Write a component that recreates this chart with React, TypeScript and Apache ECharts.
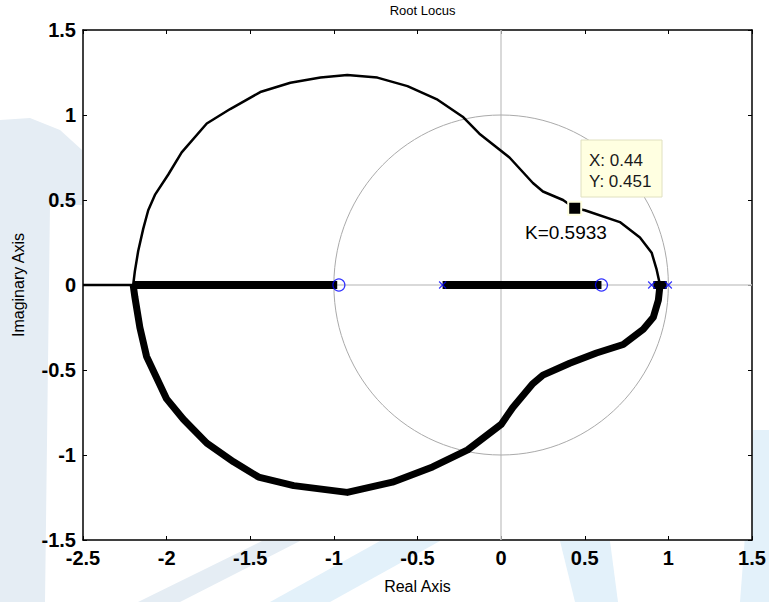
import React, { useEffect, useRef } from "react";
import * as echarts from "echarts";

// Root locus branches (real, imag)
const thinBranch: [number, number][] = [
  [-2.5, 0], [-2.2, 0], [-2.19, 0.08], [-2.17, 0.2], [-2.14, 0.33], [-2.11, 0.44],
  [-2.07, 0.53], [-1.99, 0.65], [-1.91, 0.78], [-1.76, 0.95], [-1.62, 1.035],
  [-1.44, 1.135], [-1.26, 1.19], [-1.08, 1.22], [-0.92, 1.235], [-0.74, 1.22],
  [-0.56, 1.17], [-0.38, 1.09], [-0.23, 0.99], [-0.13, 0.89], [0.05, 0.75],
  [0.19, 0.6], [0.25, 0.55], [0.37, 0.5], [0.44, 0.451], [0.5, 0.44], [0.71, 0.37],
  [0.83, 0.28], [0.9, 0.19], [0.93, 0.09], [0.95, 0],
];
const thickBranch: [number, number][] = [
  [0.95, 0], [0.94, -0.09], [0.91, -0.19], [0.85, -0.26], [0.73, -0.35], [0.57, -0.4],
  [0.41, -0.46], [0.25, -0.53], [0.19, -0.58], [0.07, -0.72], [0, -0.82], [-0.2, -0.97],
  [-0.41, -1.07], [-0.65, -1.16], [-0.92, -1.22], [-1.24, -1.18], [-1.45, -1.13],
  [-1.6, -1.04], [-1.76, -0.93], [-1.9, -0.79], [-2.0, -0.67], [-2.12, -0.42],
  [-2.16, -0.25], [-2.19, -0.07], [-2.2, 0],
];
const realSeg1: [number, number][] = [[-2.2, 0], [-0.98, 0]];
const realSeg2: [number, number][] = [[-0.35, 0], [0.6, 0]];
const realSeg3: [number, number][] = [[0.91, 0], [0.99, 0]];
const zeros: [number, number][] = [[-0.97, 0], [0.6, 0]];
const poles: [number, number][] = [[-0.35, 0], [0.9, 0], [1.0, 0]];
const selected: [number, number] = [0.44, 0.451];
const unitCircle: [number, number, number][] = [[0, 0, 1]];
const xTicks = { min: -2.5, max: 1.5, interval: 0.5 };
const yTicks = { min: -1.5, max: 1.5, interval: 0.5 };

const FONT = "'Liberation Sans', Arial, sans-serif";

export default function App() {
  const ref = useRef<HTMLDivElement>(null);
  useEffect(() => {
    if (!ref.current) return;
    const chart = echarts.init(ref.current, null, { renderer: "svg" });
    const tickLabel = { fontFamily: FONT, fontWeight: "bold", fontSize: 20, color: "#000" };
    const axisLine = { show: true, onZero: false, lineStyle: { color: "#000", width: 1.5 } };
    const axisTick = { show: true, inside: true, length: 4, lineStyle: { color: "#000", width: 1 } };
    const wm = "#e5edf4";
    const wm2 = "#e3f1fa";
    chart.setOption({
      animation: false,
      backgroundColor: "#fff",
      title: {
        text: "Root Locus",
        left: 417.5,
        textAlign: "center",
        top: -1,
        textStyle: { fontFamily: FONT, fontSize: 13, fontWeight: "normal", color: "#000" },
      },
      graphic: [
        { type: "polygon", z: -10, silent: true, shape: { points: [[0, 120], [30, 118], [60, 130], [82, 150], [82, 205], [50, 205], [45, 602], [0, 602]] }, style: { fill: wm } },
        { type: "polygon", z: -10, silent: true, shape: { points: [[138, 602], [262, 541], [300, 541], [180, 602]] }, style: { fill: wm } },
        { type: "polygon", z: -10, silent: true, shape: { points: [[270, 602], [380, 541], [440, 541], [330, 602]] }, style: { fill: wm2 } },
        { type: "polygon", z: -10, silent: true, shape: { points: [[560, 541], [610, 541], [618, 602], [575, 602]] }, style: { fill: wm2 } },
        { type: "polygon", z: -10, silent: true, shape: { points: [[753, 430], [769, 430], [769, 602], [740, 602]] }, style: { fill: wm2 } },
        { type: "rect", z: 100, silent: true, shape: { x: 581, y: 140, width: 81, height: 57 }, style: { fill: "#ffffe1", stroke: "#e0e0c0", lineWidth: 1 } },
        { type: "text", z: 101, silent: true, x: 589, y: 160, style: { text: "X: 0.44", fontFamily: FONT, fontSize: 17, fill: "#1a1a1a", verticalAlign: "middle" } },
        { type: "text", z: 101, silent: true, x: 589, y: 181, style: { text: "Y: 0.451", fontFamily: FONT, fontSize: 17, fill: "#1a1a1a", verticalAlign: "middle" } },
        { type: "text", z: 101, silent: true, x: 525, y: 232, style: { text: "K=0.5933", fontFamily: FONT, fontSize: 19, fill: "#000", verticalAlign: "middle" } },
      ],
      grid: { left: 83, right: 17, top: 30, bottom: 62, show: true, backgroundColor: "#fff", borderWidth: 0 },
      xAxis: [
        {
          type: "value", ...xTicks, position: "bottom",
          name: "Real Axis", nameLocation: "middle", nameGap: 38,
          nameTextStyle: { fontFamily: FONT, fontSize: 16, color: "#000" },
          axisLine, axisTick, splitLine: { show: false },
          axisLabel: { ...tickLabel, margin: 8 },
        },
        {
          type: "value", ...xTicks, position: "top",
          axisLine, axisTick, splitLine: { show: false }, axisLabel: { show: false },
        },
      ],
      yAxis: [
        {
          type: "value", ...yTicks, position: "left",
          name: "Imaginary Axis", nameLocation: "middle", nameGap: 57,
          nameTextStyle: { fontFamily: FONT, fontSize: 16, color: "#000" },
          axisLine, axisTick, splitLine: { show: false },
          axisLabel: { ...tickLabel, margin: 7 },
        },
        {
          type: "value", ...yTicks, position: "right",
          axisLine, axisTick, splitLine: { show: false }, axisLabel: { show: false },
        },
      ],
      series: [
        {
          type: "line", data: [], z: 1, silent: true,
          markLine: {
            silent: true, z: 1, symbol: ["none", "none"], label: { show: false },
            lineStyle: { color: "#cccccc", type: "solid", width: 1.5 },
            data: [{ xAxis: 0 }, { yAxis: 0 }],
          },
        },
        {
          type: "custom", data: unitCircle, z: 2, silent: true,
          renderItem: (params: any, api: any) => {
            const c = api.coord([api.value(0), api.value(1)]);
            const s = api.size([api.value(2), api.value(2)]);
            return {
              type: "ellipse",
              shape: { cx: c[0], cy: c[1], rx: s[0], ry: s[1] },
              style: { fill: "none", stroke: "#aaaaaa", lineWidth: 1 },
            };
          },
        },
        { type: "line", data: thinBranch, z: 6, symbol: "none", lineStyle: { color: "#000", width: 2.5 } },
        { type: "line", data: thickBranch, z: 6, symbol: "none", lineStyle: { color: "#000", width: 7, join: "round" } },
        { type: "line", data: realSeg1, z: 6, symbol: "none", lineStyle: { color: "#000", width: 8, cap: "butt" } },
        { type: "line", data: realSeg2, z: 6, symbol: "none", lineStyle: { color: "#000", width: 8, cap: "butt" } },
        { type: "line", data: realSeg3, z: 6, symbol: "none", lineStyle: { color: "#000", width: 8, cap: "butt" } },
        {
          type: "scatter", data: zeros, z: 7, symbol: "circle", symbolSize: 12,
          itemStyle: { color: "rgba(0,0,0,0)", borderColor: "#0000ff", borderWidth: 1.2 },
        },
        {
          type: "scatter", data: poles, z: 7, symbol: "path://M0,0L10,10M10,0L0,10", symbolSize: 7,
          itemStyle: { color: "none", borderColor: "#0000ff", borderWidth: 1.2 },
        },
        {
          type: "scatter", data: [selected], z: 8, symbol: "rect", symbolSize: 13,
          itemStyle: { color: "#000", borderColor: "#ffffe1", borderWidth: 2, opacity: 1 },
        },
      ],
    });
    return () => chart.dispose();
  }, []);
  return <div ref={ref} style={{ width: 769, height: 602, position: "absolute", left: 0, top: 0 }} />;
}
